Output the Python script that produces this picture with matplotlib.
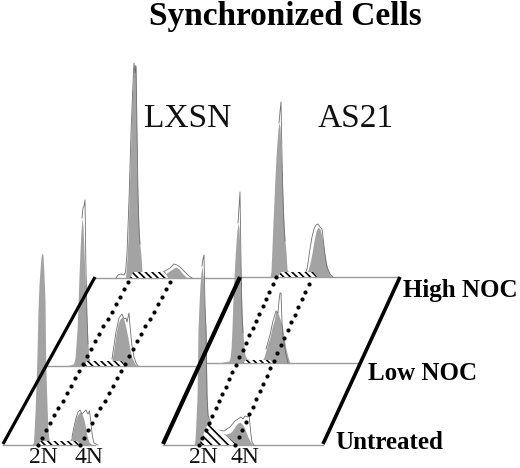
import matplotlib
matplotlib.use('Agg')
import matplotlib.pyplot as plt
import numpy as np

plt.rcParams['font.family'] = ['Liberation Serif', 'DejaVu Serif']
plt.rcParams['hatch.linewidth'] = 1.2

gap = np.nan

# flow histograms: channel (x) and count (height over the panel baseline)
lx_un_x = [32, 33.5, 35, 36, 37, 38, 39, 40, 41, 42, 43, 44, 45, 45.7, 46.5, 47.3, 48, 49, 51, 56, 62, 66, 68, 70, 72, 74, 76, 78, 80, 82, 84, 86, 87, 89, 91, 94]
lx_un_y = [0, 3, 32, 60, 90, 135, 160, 175, 188, 192, 190, 170, 145, 82, 55, 32, 15, 5, 3, 2, 3, 2, 3, 5, 9, 18, 27, 31, 33, 31, 25, 16, 9, 3, 1, 0]
lx_un_ox = [72, 74, 76, 78, 80, 82, 84, 86, 88, 89.5, 91, 92, 93, 94, 96, 98]
lx_un_oy = [8, 18, 27, 33, 35, 31, 33, 35, 31, 34, 22, 12, 6, 2, 1, 0]

lx_lo_x = [65, 70, 73, 74, 75, 76, 77, 78, 79, 80, 81, 82, 83, 84, 85, 86, 87, 88, 89, 91, 94, 100, 106, 110, 112, 114, 116, 118, 120, 122, 124, 126, 128, 130, 132, 135, 137]
lx_lo_y = [0, 1, 2, 4, 8, 22, 36, 60, 90, 115, 135, 148, 140, 115, 90, 69, 42, 22, 8, 3, 3, 4, 3, 3, 6, 18, 32, 42, 47, 49, 46, 38, 28, 16, 8, 2, 0]
lx_lo_ox = [82, 83, 84, 85, 86, 87, 88, gap, 112, 116, 119, 122, 124, 126, 127, 129, 130, 132, 134, 136, 138]
lx_lo_oy = [148, 158, 160, 166, 95, 50, 22, gap, 7, 34, 48, 52, 47, 48, 44, 53, 40, 20, 9, 3, 0]

lx_hi_x = [125.5, 127, 128, 129, 130, 131, 132, 133, 134, 135, 136, 136.5, 137, 138, 139, 140, 141, 142, 144, 146, 152, 158, 162, 165, 168, 171, 174, 176, 179, 182, 185, 188]
lx_hi_y = [0, 20, 40, 78, 110, 145, 175, 195, 212, 214, 210, 150, 110, 78, 45, 32, 22, 6, 3, 3, 3, 2, 3, 4, 6, 8, 10, 11, 9, 5, 2, 0]
lx_hi_ox = [116, 118, 121, 124, 125.5, 127, 129, 131, 133, 134, 135, 136, 137, 138, 139, 140, gap, 160, 165, 170, 174, 177, 180, 183, 186, 189, 192]
lx_hi_oy = [0, 3, 4, 3, 6, 24, 78, 145, 195, 215, 205, 212, 150, 84, 50, 34, gap, 4, 7, 10, 14, 13, 11, 8, 5, 2, 0]

as_un_x = [194, 195, 196, 197, 198, 199, 200, 201, 202, 203, 204, 205, 206, 207, 208, 209, 212, 220, 226, 230, 232, 234, 236, 238, 240, 242, 244, 246, 248, 250, 252, 254]
as_un_y = [0, 5, 25, 48, 115, 140, 160, 172, 179, 170, 150, 130, 115, 48, 30, 20, 15, 11, 11, 12, 14, 17, 20, 22, 23, 21, 18, 13, 8, 4, 1, 0]
as_un_ox = [202, 203, 204, 205, 206, 207, 208, 212, 218, 224, 230, 235, 238, 241, 243, 245, 248, 249, 250, 251, 252, 254]
as_un_oy = [179, 186, 190, 140, 115, 50, 30, 18, 15, 14, 18, 24, 26, 28, 26, 29, 28, 31, 20, 10, 3, 0]

as_lo_x = [218, 224, 229, 230, 231, 232, 233, 234, 235, 236, 237, 238, 239, 240, 241, 242, 243, 244, 245, 247, 252, 258, 262, 264, 266, 268, 270, 272, 274, 276, 278, 280, 282, 284, 286, 288, 290]
as_lo_y = [0, 1, 2, 5, 14, 35, 66, 85, 105, 120, 133, 140, 135, 110, 80, 50, 30, 16, 8, 4, 3, 3, 2, 6, 13, 20, 26, 35, 42, 52, 50, 44, 38, 26, 14, 6, 0]
as_lo_ox = [238, 239, 240, 241, 242, 243, gap, 266, 270, 273, 276, 278, 279, 280, 281, 282, 283, 284, 286, 288]
as_lo_oy = [140, 155, 171, 100, 50, 30, gap, 14, 28, 42, 52, 50, 62, 70, 70, 40, 26, 20, 8, 0]

as_hi_x = [270, 271, 272, 273, 274, 275, 276, 277, 278, 279, 280, 281, 282, 283, 284, 285, 286, 287, 289, 292, 298, 303, 306, 308, 310, 312, 314, 316, 318, 320, 322, 324, 326, 328, 330, 332]
as_hi_y = [0, 6, 30, 55, 77, 100, 120, 135, 148, 154, 150, 125, 100, 77, 52, 36, 25, 8, 4, 3, 4, 3, 4, 7, 14, 24, 36, 46, 50, 48, 40, 28, 16, 7, 2, 0]
as_hi_ox = [279, 280, 281, 282, 283, 284, 285, gap, 305, 307, 308, 310, 312, 314, 316, 318, 320, 322, 323, 325, 327, 330, 333]
as_hi_oy = [154, 165, 175, 120, 80, 52, 36, gap, 3, 8, 14, 28, 40, 48, 52, 53, 50, 48, 40, 22, 10, 3, 0]

# hatched S phase regions: left, right, baseline, top (height over baseline)
s_regions = [(38, 80, 445, 4), (84, 125, 366, 5), (130, 168, 278, 6), (243, 273, 363, 3), (278, 317, 277, 5)]
s_triangle_x = [199, 209, 237]
s_triangle_y = [445, 421, 445]

# 2N / 4N guide dots: start x, start y, end x, end y, number of dots
dot_lines = [(38, 445, 128, 282, 23), (80, 445, 170, 282, 23),
             (199, 445, 276, 277, 24), (235, 445, 309, 284, 22)]

# baselines: x0, x1, y
baselines = [(3, 95, 445), (47, 200, 366), (95, 240, 278), (163, 323, 445), (207, 358, 363), (240, 400, 277)]
# slanted frame: x0, y0, x1, y1, width
frames = [(3, 444, 95, 277, 2.3), (163, 444, 240, 277, 3.0), (323, 444, 400, 277, 2.6)]

title = 'Synchronized Cells'
row_labels = ['High NOC', 'Low NOC', 'Untreated']
row_x = [403, 368, 335]
row_y = [297, 380, 449]
group_labels = ['LXSN', 'AS21']
group_x = [144, 318]
ploidy_labels = ['2N', '4N', '2N', '4N']
ploidy_x = [43, 89, 203, 245]

hists = [
    (lx_un_x, lx_un_y, lx_un_ox, lx_un_oy, 445),
    (lx_lo_x, lx_lo_y, lx_lo_ox, lx_lo_oy, 366),
    (lx_hi_x, lx_hi_y, lx_hi_ox, lx_hi_oy, 278),
    (as_un_x, as_un_y, as_un_ox, as_un_oy, 445),
    (as_lo_x, as_lo_y, as_lo_ox, as_lo_oy, 363),
    (as_hi_x, as_hi_y, as_hi_ox, as_hi_oy, 277),
]

fig = plt.figure(figsize=(5.2, 4.68), dpi=100)
ax = fig.add_axes([0, 0, 1, 1])
ax.set_xlim(0, 520)
ax.set_ylim(468, 0)
ax.axis('off')

for x0, x1, y in baselines:
    ax.plot([x0, x1], [y, y], color='#9a9a9a', lw=1.0, zorder=1)

for x, h, ox, oh, base in hists:
    ax.fill_between(x, base - np.array(h), base, color='#a3a3a3', lw=0, zorder=2)
    ax.plot(ox, base - np.array(oh), color='#6e6e6e', lw=0.6, zorder=3)

for x0, x1, base, h in s_regions:
    ax.fill([x0, x0 + 3, x1 - 3, x1], [base, base - h, base - h, base], facecolor='white',
            edgecolor='black', hatch='\\\\\\\\\\', lw=0, zorder=4)
ax.fill(s_triangle_x, s_triangle_y, facecolor='white', edgecolor='black', hatch='\\\\\\\\', lw=0, zorder=4)

for x0, y0, x1, y1, n in dot_lines:
    ax.scatter(np.linspace(x0, x1, n), np.linspace(y0, y1, n), s=9, color='black', lw=0, zorder=6)

for x0, y0, x1, y1, w in frames:
    ax.plot([x0, x1], [y0, y1], color='black', lw=w, solid_capstyle='butt', zorder=5)

ax.text(285, 25, title, fontsize=24, fontweight='bold', ha='center', va='baseline')
for s, x in zip(group_labels, group_x):
    ax.text(x, 127, s, fontsize=24, ha='left', va='baseline', color='#111111')
for s, x, y in zip(row_labels, row_x, row_y):
    ax.text(x, y, s, fontsize=18, fontweight='bold', ha='left', va='baseline')
for s, x in zip(ploidy_labels, ploidy_x):
    ax.text(x, 463, s, fontsize=17, ha='center', va='baseline', color='#111111')

fig.savefig('out.png', dpi=100)
